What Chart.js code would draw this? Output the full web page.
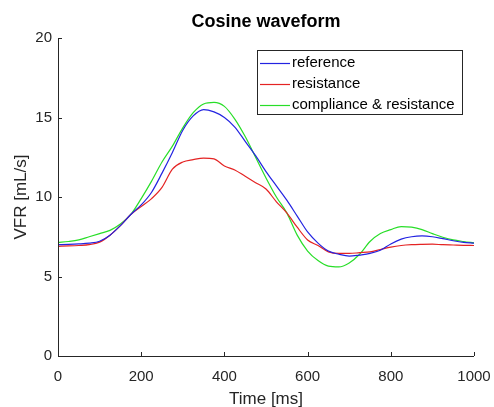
<!DOCTYPE html>
<html>
<head>
<meta charset="utf-8">
<script src="https://cdn.jsdelivr.net/npm/chart.js@4/dist/chart.umd.min.js"></script>
<style>
  html, body { margin: 0; padding: 0; background: #fff; }
  #wrap { width: 494px; height: 407px; }
</style>
</head>
<body>
<div id="wrap"><canvas id="flowChart" width="494" height="407"></canvas></div>
<script>
// sample times in ms
const timeMs = [0, 25, 50, 75, 100, 125, 150, 175, 200, 225, 250, 275, 300, 325, 350, 375, 400,
  425, 450, 475, 500, 525, 550, 575, 600, 625, 650, 675, 700, 725, 750, 775, 800, 825, 850, 875,
  900, 925, 950, 975, 1000];

// volumetric flow rate [mL/s]
const reference = [7.0, 7.02, 7.05, 7.1, 7.22, 7.6, 8.2, 8.9, 9.5, 10.3, 11.5, 12.8, 14.2, 15.1, 15.5,
  15.35, 15.0, 14.4, 13.5, 12.6, 11.6, 10.7, 9.8, 8.8, 7.8, 7.1, 6.6, 6.4, 6.28, 6.35, 6.45, 6.65,
  7.05, 7.35, 7.5, 7.55, 7.5, 7.38, 7.25, 7.15, 7.1];
const resistance = [6.9, 6.92, 6.95, 7.0, 7.16, 7.6, 8.2, 8.9, 9.4, 9.9, 10.6, 11.75, 12.2, 12.35, 12.45,
  12.4, 11.95, 11.7, 11.3, 10.9, 10.5, 9.7, 9.0, 8.1, 7.3, 6.95, 6.55, 6.45, 6.45, 6.5, 6.55, 6.7,
  6.85, 6.95, 7.0, 7.02, 7.03, 7.0, 6.98, 6.96, 6.95];
const complianceResistance = [7.14, 7.2, 7.3, 7.5, 7.7, 7.9, 8.3, 8.9, 9.9, 11.0, 12.2, 13.2, 14.35, 15.3,
  15.85, 15.95, 15.7, 14.9, 13.8, 12.5, 11.2, 10.0, 9.0, 7.6, 6.6, 6.0, 5.65, 5.6, 5.85, 6.4, 7.2,
  7.7, 7.95, 8.14, 8.1, 7.95, 7.7, 7.47, 7.3, 7.2, 7.12];

const xTicks = [0, 200, 400, 600, 800, 1000];
const yTicks = [0, 5, 10, 15, 20];

const chartTitle = 'Cosine waveform';
const axisColor = '#262626';
const fontFamily = '"Liberation Sans", Arial, Helvetica, sans-serif';

function toPoints(values) {
  return values.map((v, i) => ({ x: timeMs[i], y: v }));
}

// title centred over the axes rather than the whole canvas
const axesTitle = {
  id: 'axesTitle',
  afterDraw(chart) {
    const { ctx, chartArea } = chart;
    ctx.save();
    ctx.font = 'bold 18px ' + fontFamily;
    ctx.fillStyle = '#000';
    ctx.textAlign = 'center';
    ctx.textBaseline = 'middle';
    ctx.fillText(chartTitle, (chartArea.left + chartArea.right) / 2, chartArea.top - 16);
    ctx.restore();
  }
};

// MATLAB-style axes: only left and bottom lines, ticks pointing inwards
const inwardTicks = {
  id: 'inwardTicks',
  afterDatasetsDraw(chart) {
    const { ctx, chartArea, scales } = chart;
    const len = 4;
    ctx.save();
    ctx.strokeStyle = axisColor;
    ctx.lineWidth = 1;
    ctx.beginPath();
    ctx.moveTo(chartArea.left + 0.5, chartArea.top);
    ctx.lineTo(chartArea.left + 0.5, chartArea.bottom + 0.5);
    ctx.lineTo(chartArea.right, chartArea.bottom + 0.5);
    xTicks.forEach(t => {
      const px = Math.round(scales.x.getPixelForValue(t)) + 0.5;
      ctx.moveTo(px, chartArea.bottom);
      ctx.lineTo(px, chartArea.bottom - len);
    });
    yTicks.forEach(t => {
      const py = Math.round(scales.y.getPixelForValue(t)) + 0.5;
      ctx.moveTo(chartArea.left, py);
      ctx.lineTo(chartArea.left + len, py);
    });
    ctx.stroke();
    ctx.restore();
  }
};

// legend box in the upper right corner of the axes
const boxLegend = {
  id: 'boxLegend',
  afterDraw(chart) {
    const { ctx, chartArea } = chart;
    const sets = chart.data.datasets;
    const boxRight = chartArea.right - 12;
    const boxLeft = 257;
    const boxTop = chartArea.top + 12;
    const rowH = 21;
    const boxH = rowH * sets.length + 1;
    ctx.save();
    ctx.fillStyle = '#fff';
    ctx.fillRect(boxLeft, boxTop, boxRight - boxLeft, boxH);
    ctx.strokeStyle = axisColor;
    ctx.lineWidth = 1;
    ctx.strokeRect(boxLeft + 0.5, boxTop + 0.5, boxRight - boxLeft, boxH);
    ctx.font = '15px ' + fontFamily;
    ctx.textBaseline = 'middle';
    sets.forEach((ds, i) => {
      const y = boxTop + 13 + i * rowH;
      ctx.strokeStyle = ds.borderColor;
      ctx.lineWidth = 1.2;
      ctx.beginPath();
      ctx.moveTo(boxLeft + 3, y + 0.5);
      ctx.lineTo(boxLeft + 33, y + 0.5);
      ctx.stroke();
      ctx.fillStyle = '#000';
      ctx.fillText(ds.label, boxLeft + 35, y);
    });
    ctx.restore();
  }
};

const tickFont = { family: fontFamily, size: 15 };

new Chart(document.getElementById('flowChart'), {
  type: 'line',
  data: {
    datasets: [
      { label: 'reference', data: toPoints(reference), borderColor: 'rgb(35,35,225)' },
      { label: 'resistance', data: toPoints(resistance), borderColor: 'rgb(228,35,35)' },
      { label: 'compliance & resistance', data: toPoints(complianceResistance), borderColor: 'rgb(40,222,40)' }
    ]
  },
  options: {
    responsive: false,
    animation: false,
    layout: { padding: { left: 0, right: 20, top: 38, bottom: 0 } },
    elements: {
      point: { radius: 0 },
      line: { borderWidth: 1.2, tension: 0.4, cubicInterpolationMode: 'monotone', fill: false }
    },
    plugins: {
      legend: { display: false },
      tooltip: { enabled: false },
      title: { display: false }
    },
    scales: {
      x: {
        type: 'linear',
        min: 0,
        max: 1000,
        afterFit(scale) {
          scale.height = 51;
          scale.paddingLeft = 0;
          scale.paddingRight = 0;
        },
        afterBuildTicks(scale) { scale.ticks = xTicks.map(v => ({ value: v })); },
        grid: { display: false, drawTicks: false },
        border: { display: false },
        ticks: { color: axisColor, font: tickFont, padding: 12, maxRotation: 0, callback: v => String(v) },
        title: {
          display: true,
          text: 'Time [ms]',
          color: axisColor,
          font: { family: fontFamily, size: 17 },
          padding: { top: 0, bottom: -3 }
        }
      },
      y: {
        min: 0,
        max: 20,
        afterFit(scale) { scale.width = 58; },
        afterBuildTicks(scale) { scale.ticks = yTicks.map(v => ({ value: v })); },
        grid: { display: false, drawTicks: false },
        border: { display: false },
        ticks: { color: axisColor, font: tickFont, padding: 6, callback: v => String(v) },
        title: {
          display: true,
          text: 'VFR [mL/s]',
          color: axisColor,
          font: { family: fontFamily, size: 17 },
          padding: { top: 11, bottom: 0 }
        }
      }
    }
  },
  plugins: [inwardTicks, boxLegend, axesTitle]
});
</script>
</body>
</html>
